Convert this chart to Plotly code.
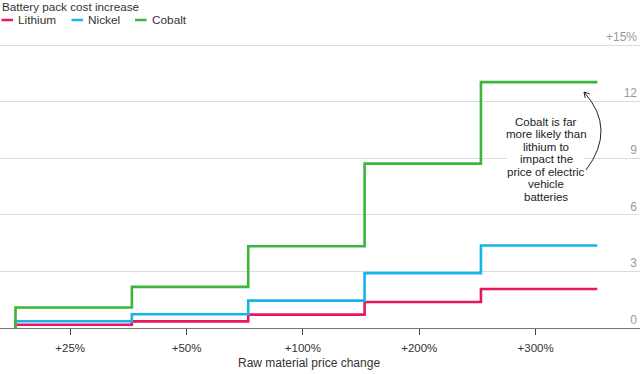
import plotly.graph_objects as go

# ---- data ----
price_changes = ["+25%", "+50%", "+100%", "+200%", "+300%"]
series_names = ["Lithium", "Nickel", "Cobalt"]
lithium = [0.17, 0.35, 0.71, 1.38, 2.07]
nickel = [0.36, 0.73, 1.45, 2.91, 4.37]
cobalt = [1.09, 2.18, 4.33, 8.71, 13.03]
series_values = [lithium, nickel, cobalt]
colors = ["#e8175d", "#16b4e9", "#3db53a"]
y_ticks = [0, 3, 6, 9, 12, 15]
y_ticktext = ["0", "3", "6", "9", "12", "+15%"]
legend_title = "Battery pack cost increase"
x_title = "Raw material price change"
note_lines = ["Cobalt is far", "more likely than", "lithium to", "impact the",
              "price of electric", "vehicle", "batteries"]

FONT = "Liberation Sans, Arial, sans-serif"
W, H = 640, 374
Y15_PX = 45.0          # pixel row of the 15 gridline
MB = 46
MT = 24
PH = H - MT - MB
YS = (H - MB - Y15_PX) / 15.0   # px per unit
Y_TOP = (H - MB - MT) / YS      # data value at plot top

X0, XS = 15.5, 116.36  # px of first step edge, px per step
def dx(px):
    return (px - X0) / XS
def dy(py):
    return (H - MB - py) / YS
def py_paper(py):
    return (H - MB - py) / PH

fig = go.Figure()
edges = list(range(len(price_changes) + 1))
for name, vals, col in zip(series_names, series_values, colors):
    fig.add_trace(go.Scatter(
        x=[0] + edges,
        y=[0] + vals + [vals[-1]],
        mode="lines", line=dict(color=col, width=2.6, shape="hv"),
        name=name, showlegend=False, hoverinfo="skip"))

# custom legend
legend_x = [1.5, 71.5, 135]
for name, col, lx in zip(series_names, colors, legend_x):
    fig.add_shape(type="line", xref="paper", yref="paper",
                  x0=lx / W, x1=(lx + 11.5) / W, y0=py_paper(20), y1=py_paper(20),
                  line=dict(color=col, width=2.5))
    fig.add_annotation(text=name, xref="paper", yref="paper",
                       x=(lx + 14.5) / W, y=py_paper(20.5), xanchor="left", yanchor="middle",
                       showarrow=False, font=dict(family=FONT, size=11.8, color="#333"))
fig.add_annotation(text=legend_title, xref="paper", yref="paper",
                   x=0, y=py_paper(6.5), xanchor="left", yanchor="middle",
                   showarrow=False, font=dict(family=FONT, size=11.7, color="#333"))

# x title
fig.add_annotation(text=x_title, xref="x", yref="paper",
                   x=dx(309), y=py_paper(363), xanchor="center", yanchor="middle",
                   showarrow=False, font=dict(family=FONT, size=12, color="#333"))

# white block behind the note (breaks the gridline)
fig.add_shape(type="rect", xref="x", yref="y", layer="above",
              x0=dx(507), x1=dx(584), y0=dy(150), y1=dy(166),
              fillcolor="white", line=dict(width=0))

# note (one annotation per line for tight line spacing) + curved arrow
first_line_py, line_step = 121.5, 12.5
for i, txt in enumerate(note_lines):
    fig.add_annotation(text=txt, xref="x", yref="y", x=dx(546), y=dy(first_line_py + i * line_step),
                       xanchor="center", yanchor="middle", showarrow=False,
                       font=dict(family=FONT, size=11.5, color="#222"))
tail, ctrl, tip = (586, 170), (617, 129), (584, 92)
fig.add_shape(type="path", xref="x", yref="y",
              path=f"M {dx(tail[0])},{dy(tail[1])} Q {dx(ctrl[0])},{dy(ctrl[1])} {dx(tip[0])},{dy(tip[1])}",
              line=dict(color="#222", width=1))
for wing in [(585.2, 97.9), (589.7, 93.9)]:
    fig.add_shape(type="line", xref="x", yref="y",
                  x0=dx(tip[0]), y0=dy(tip[1]), x1=dx(wing[0]), y1=dy(wing[1]),
                  line=dict(color="#222", width=1))

tick_pos = [i + 0.47 for i in range(len(price_changes))]
fig.update_layout(
    width=W, height=H,
    margin=dict(l=0, r=0, t=MT, b=MB),
    paper_bgcolor="white", plot_bgcolor="white",
    font=dict(family=FONT, color="#333"),
    xaxis=dict(range=[dx(0), dx(W)], tickvals=tick_pos, ticktext=price_changes,
               showgrid=False, zeroline=False, showline=True, linecolor="#777", linewidth=1,
               ticks="outside", ticklen=6, tickcolor="#444", tickwidth=1,
               ticklabelstandoff=3,
               tickfont=dict(family=FONT, size=11.5, color="#333")),
    yaxis=dict(range=[0, Y_TOP], side="right", tickvals=y_ticks, ticktext=y_ticktext,
               ticklabelposition="inside top", showgrid=True, gridcolor="#dcdcdc", gridwidth=1,
               zeroline=False, showline=False, ticks="",
               tickfont=dict(family=FONT, size=12, color="#999")),
)

fig.write_html("out.html")
